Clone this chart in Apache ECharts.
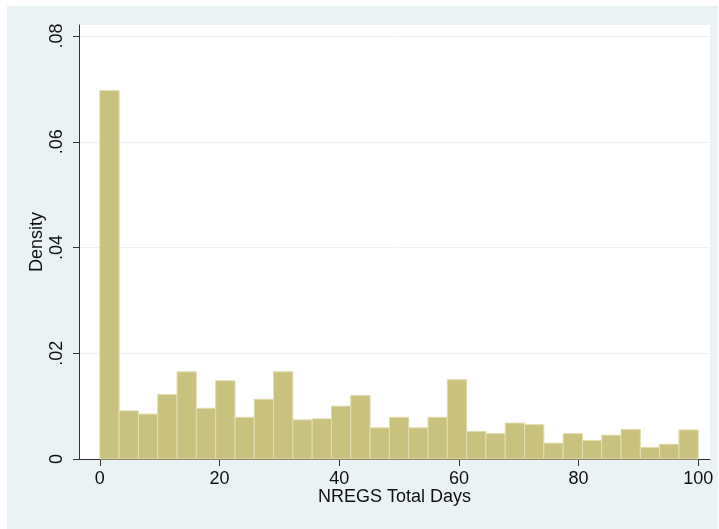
<!DOCTYPE html>
<html>
<head>
<meta charset="utf-8">
<script src="https://cdn.jsdelivr.net/npm/echarts@6/dist/echarts.min.js"></script>
<style>html,body{margin:0;padding:0;background:#fff}#c{width:719px;height:529px}</style>
</head>
<body>
<div id="c"></div>
<script>
// Histogram of NREGS Total Days: 31 equal-width bins from 0 to 100
const binCount = 31;
const binMin = 0;
const binMax = 100;
const density = [0.0697, 0.0091, 0.0085, 0.0122, 0.0165, 0.0096, 0.0148, 0.0079, 0.0113, 0.0165,
                 0.0074, 0.0076, 0.0100, 0.0120, 0.0059, 0.0079, 0.0059, 0.0079, 0.0150, 0.0052,
                 0.0048, 0.0068, 0.0065, 0.0030, 0.0048, 0.0035, 0.0045, 0.0056, 0.0022, 0.0028, 0.0055];
const xTicks = [0, 20, 40, 60, 80, 100];
const yTicks = [0, 0.02, 0.04, 0.06, 0.08];
const xTitle = 'NREGS Total Days';
const yTitle = 'Density';

const binWidth = (binMax - binMin) / binCount;
const data = density.map((d, i) => [binMin + i * binWidth, binMin + (i + 1) * binWidth, d]);

const chart = echarts.init(document.getElementById('c'), null, {renderer: 'canvas'});
const font = 'Liberation Sans, Arial, sans-serif';
chart.setOption({
  animation: false,
  backgroundColor: '#ffffff',
  graphic: [{
    type: 'rect', z: -100, silent: true,
    shape: {x: 7, y: 6, width: 711, height: 523},
    style: {fill: '#EAF2F3'}
  }],
  grid: {left: 79, top: 25, right: 9, bottom: 70, show: true, backgroundColor: '#ffffff', borderWidth: 0},
  xAxis: {
    type: 'value', min: -3.48, max: 101.96,
    name: xTitle, nameLocation: 'middle', nameGap: 29, nameMoveOverlap: false,
    nameTextStyle: {fontFamily: font, fontSize: 18, color: '#111'},
    axisLine: {show: true, onZero: false, lineStyle: {color: '#333', width: 1}},
    axisTick: {show: true, length: 7, customValues: xTicks, lineStyle: {color: '#333'}},
    axisLabel: {customValues: xTicks, fontFamily: font, fontSize: 18, color: '#111', margin: 11},
    splitLine: {show: false}
  },
  yAxis: {
    type: 'value', min: 0, max: 0.0821,
    name: yTitle, nameLocation: 'middle', nameGap: 33, nameRotate: 90, nameMoveOverlap: false,
    nameTextStyle: {fontFamily: font, fontSize: 18, color: '#111'},
    axisLine: {show: true, onZero: false, lineStyle: {color: '#333', width: 1}},
    axisTick: {show: true, length: 6, customValues: yTicks, lineStyle: {color: '#333'}},
    axisLabel: {customValues: yTicks, rotate: 90, fontFamily: font, fontSize: 18, color: '#111', margin: 13,
      formatter: v => v === 0 ? '0' : v.toFixed(2).replace(/^0/, '')},
    splitLine: {show: true, lineStyle: {color: '#EAF2F3', width: 1}}
  },
  series: [{
    type: 'custom',
    data: data,
    encode: {x: [0, 1], y: 2},
    renderItem: function (params, api) {
      const p0 = api.coord([api.value(0), 0]);
      const p1 = api.coord([api.value(1), api.value(2)]);
      return {
        type: 'rect',
        shape: {x: p0[0], y: p1[1], width: p1[0] - p0[0], height: p0[1] - p1[1]},
        style: {fill: '#C9C27F', stroke: '#E2DDAE', lineWidth: 1}
      };
    }
  }]
});
</script>
</body>
</html>
